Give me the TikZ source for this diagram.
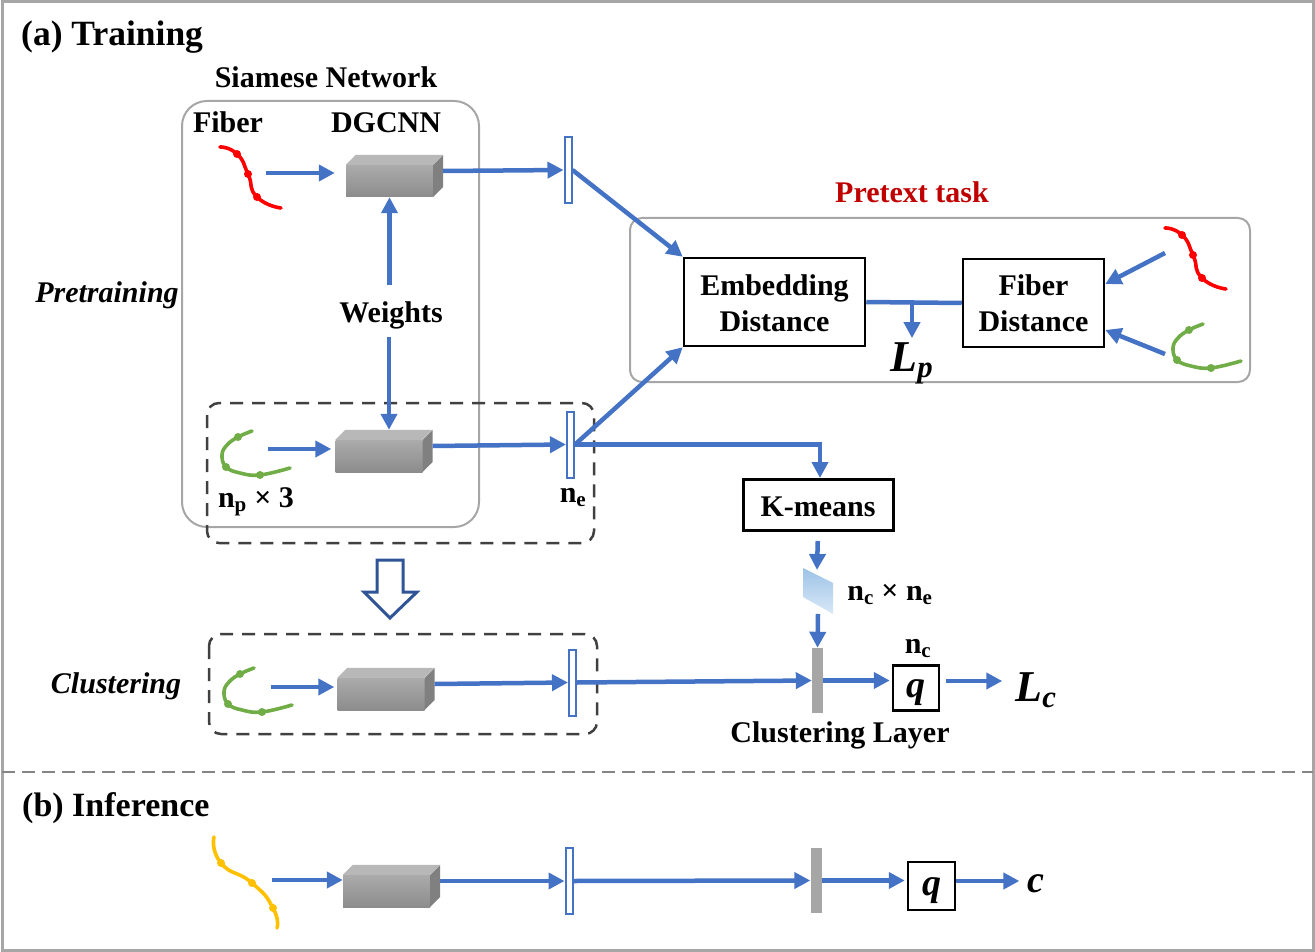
\documentclass[tikz,border=0pt]{standalone}
\usepackage{fontspec}
\setmainfont{Liberation Serif}
\usepackage{tikz}
\usetikzlibrary{arrows.meta}

\definecolor{flowblue}{HTML}{4472C4}
\definecolor{navyblue}{HTML}{2F5597}
\definecolor{framegray}{HTML}{A6A6A6}
\definecolor{dashgray}{HTML}{404040}
\definecolor{darkred}{HTML}{C00000}
\definecolor{fibgreen}{HTML}{70AD47}
\definecolor{fibyellow}{HTML}{FFC000}
\definecolor{paratop}{HTML}{9DC3E6}
\definecolor{parabot}{HTML}{D9E8F8}

\tikzset{
  lab/.style={font=\fontsize{30}{36}\selectfont\bfseries,inner sep=0pt,align=center,yshift=-2.5pt},
  ilab/.style={font=\fontsize{30}{36}\selectfont\bfseries\itshape,inner sep=0pt,yshift=-2.5pt},
  title/.style={font=\fontsize{35.5}{40}\selectfont\bfseries,inner sep=0pt,anchor=west,yshift=-3pt},
  flow/.style={draw=flowblue,line width=4.5pt,-{Triangle[length=16pt,width=16pt]}},
  plainflow/.style={draw=flowblue,line width=4.5pt},
  layerbox/.style={draw=flowblue,fill=white,line width=2pt,minimum width=7pt,minimum height=66pt,inner sep=0pt},
  clusterbar/.style={fill=framegray,minimum width=11pt,minimum height=65pt,inner sep=0pt},
  blockbox/.style={draw=black,line width=2.5pt,fill=white,inner sep=0pt,font=\fontsize{30}{36}\selectfont\bfseries,align=center},
  qbox/.style={draw=black,line width=2.5pt,minimum width=46pt,minimum height=45pt,inner sep=0pt,text height=26pt,text depth=8pt,font=\fontsize{38}{40}\selectfont\bfseries\itshape},
  greybox/.style={draw=framegray,line width=2pt,rounded corners=25pt},
  dashbox/.style={draw=dashgray,line width=2.5pt,dash pattern=on 13pt off 9pt,rounded corners=12pt},
  fibline/.style={line width=3.6pt,line cap=round},
}

% one grey block, front face is the node
\newcommand{\graycube}[3]{
  \node[minimum width=87pt,minimum height=32pt,inner sep=0pt,top color=black!33,bottom color=black!45] (#1) at (#2,#3) {};
  \fill[black!28] (#1.north west) -- ++(10,-10) -- ++(87,0) -- ++(-10,10) -- cycle;
  \fill[black!50] (#1.north east) -- ++(10,-10) -- ++(0,32) -- ++(-10,10) -- cycle;
  \coordinate (#1-out) at ([xshift=10pt,yshift=10pt]#1.east);
  \coordinate (#1-top) at ([xshift=10pt,yshift=10pt]#1.north);
}
% fibers, given by their shift
\newcommand{\redfiber}[2]{
  \begin{scope}[shift={(#1,#2)}]
    \draw[fibline,red] plot[smooth,tension=1] coordinates {(220,147) (237,154) (248,174) (257,197) (281,208)};
    \foreach \p in {(237,154),(248,174),(257,197)} \fill[red] \p circle (4pt);
  \end{scope}
}
\newcommand{\greenfiber}[2]{
  \begin{scope}[shift={(#1,#2)}]
    \draw[fibline,fibgreen] plot[smooth,tension=0.7] coordinates {(252,431) (238,437) (227,445) (222,455) (226,467) (240,473) (260,475) (290,468)};
    \foreach \p in {(238,437),(226,467),(260,475)} \fill[fibgreen] \p circle (4pt);
  \end{scope}
}
\newcommand{\firstline}[1]{\rule{0pt}{#1pt}}

\begin{document}
\begin{tikzpicture}[x=1pt,y=-1pt]
\useasboundingbox (0,0) rectangle (1315,952);
\draw[framegray,line width=3pt] (2,2) rectangle (1313,950);
\draw[draw=framegray!80!black,line width=2pt,dash pattern=on 13pt off 7pt] (2,772) -- (1313,772);

\node[title] (training) at (21,34) {(a) Training};
\node[title,font=\fontsize{34}{40}\selectfont\bfseries] (inference) at (22,805) {(b) Inference};
\node[ilab] (pretraining) at (107,293) {Pretraining};
\node[ilab] (clustering) at (116,684) {Clustering};

%frames
\draw[greybox] (182,101) rectangle (479,527);
\draw[dashbox] (207,403) rectangle (594,543);
\draw[dashbox] (209,634) rectangle (597,734);
\draw[greybox,rounded corners=12pt] (630,218) rectangle (1250,382);

\node[lab] (siamese) at (326,75) {Siamese Network};
\node[lab] (fiber) at (228,120) {Fiber};
\node[lab] (dgcnn) at (386,120) {DGCNN};
\node[lab,text=darkred] (pretext) at (912,190) {Pretext task};
\node[font=\fontsize{30}{36}\selectfont\bfseries,inner sep=0pt,text height=37pt,text depth=15pt] (weights) at (391,311) {Weights};
\node[lab] (npthree) at (256,499) {n\textsubscript{p} × 3};
\node[lab] (nea) at (573,495) {n\textsubscript{e}};
\node[lab] (ncne) at (890,592) {n\textsubscript{c} × n\textsubscript{e}};
\node[lab] (nc) at (918,646) {n\textsubscript{c}};
\node[lab] (clusterlayer) at (840,733) {Clustering Layer};

%fibers
\redfiber{0}{0}
\redfiber{945}{81}
\greenfiber{0}{0}
\greenfiber{951}{-107}
\greenfiber{2}{237}
\draw[fibline,fibyellow] plot[smooth,tension=1] coordinates {(214,837) (221,863) (252,883) (273,908) (277,928)};
\foreach \p in {(221,863),(252,883),(273,908)} \fill[fibyellow] \p circle (4pt);

%blocks
\graycube{cubeA}{389.5}{181}
\graycube{cubeB}{379}{456}
\graycube{cubeC}{381}{694}
\graycube{cubeD}{386.5}{891}

\node[layerbox] (layerA) at (568,170) {};
\node[layerbox] (layerB) at (570.5,444.5) {};
\node[layerbox] (layerC) at (572.5,682.5) {};
\node[layerbox] (layerD) at (569,881) {};

\node[blockbox,minimum width=181pt,minimum height=88pt] (embed) at (774.5,302) {\firstline{24}Embedding\\Distance};
\node[blockbox,minimum width=141pt,minimum height=88pt] (fibdist) at (1033.5,303) {\firstline{22}Fiber\\Distance};
\node[blockbox,line width=3pt,minimum width=150pt,minimum height=51pt] (kmeans) at (818,505) {\firstline{24}K-means};

\shade[top color=paratop,bottom color=parabot] (803,568) -- (833,583) -- (833,614) -- (803,597) -- cycle;
\coordinate (parain) at (817,570);
\coordinate (paraout) at (818,614);

\node[clusterbar] (barA) at (817.5,680.5) {};
\node[clusterbar] (barB) at (816,880.5) {};
\node[qbox] (qA) at (916,688) {q};
\node[qbox,minimum width=47pt,minimum height=48pt] (qB) at (931.5,886) {q};

\node[inner sep=0pt,font=\fontsize{44}{48}\selectfont\bfseries\itshape] (lp) at (912,363) {L\textsubscript{p}};
\node[inner sep=0pt,font=\fontsize{44}{48}\selectfont\bfseries\itshape] (lc) at (1036,690) {L\textsubscript{c}};
\node[inner sep=0pt,font=\fontsize{38}{40}\selectfont\bfseries\itshape] (cout) at (1036,884) {c};

%free ends
\coordinate (fibA) at (266,173);
\coordinate (fibB) at (268,449);
\coordinate (fibC) at (271,687);
\coordinate (fibD) at (272,880);
\coordinate (fibE) at (1165,253);
\coordinate (fibF) at (1165,354);
\coordinate (join) at (912,302);

%arrows
\draw[flow,shorten >=11pt] (fibA) -- (fibA -| cubeA.west);
\draw[flow,shorten >=4pt] (fibB) -- (fibB -| cubeB.west);
\draw[flow,shorten >=3pt] (fibC) -- (fibC -| cubeC.west);
\draw[flow] (fibD) -- (fibD -| cubeD.west);
\draw[flow] (cubeA-out) -- (layerA.west);
\draw[flow] (cubeB-out) -- (layerB.west);
\draw[flow] (cubeC-out) -- (layerC.west);
\draw[flow] (cubeD-out) -- (layerD.west);
\draw[flow] (weights.north -| cubeA.south) -- (cubeA.south);
\draw[flow] (weights.south -| cubeB-top) -- (cubeB-top);
\draw[flow] (layerA.east) -- (embed.north west);
\draw[flow] (layerB.east) -- (embed.south west);
\draw[flow] (layerB.east) -| ([xshift=2pt]kmeans.north);
\draw[plainflow] (embed.east) -- (fibdist.west);
\draw[flow,shorten >=4pt] (join) -- (join |- lp.north);
\draw[flow] (fibE) -- ([yshift=19pt]fibdist.east);
\draw[flow] (fibF) -- ([yshift=-27pt]fibdist.east);
\draw[flow,shorten <=9pt] (kmeans.south) -- (parain);
\draw[flow] (paraout) -- (barA.north);
\draw[flow] (layerC.east) -- (barA.west);
\draw[flow,shorten >=2pt] (barA.east) -- (barA.east -| qA.west);
\draw[flow,shorten <=6pt,shorten >=13pt] ([yshift=7pt]qA.east) -- ([yshift=7pt]qA.east -| lc.west);
\draw[flow] (layerD.east) -- (barB.west);
\draw[flow,shorten >=2pt] (barB.east) -- (barB.east -| qB.west);
\draw[flow,shorten >=8pt] ([yshift=5pt]qB.east) -- ([yshift=5pt]qB.east -| cout.west);

\draw[navyblue,line width=3pt,fill=white] (377,560) -- (403,560) -- (403,592) -- (417,592) -- (390,618) -- (364,592) -- (377,592) -- cycle;
\end{tikzpicture}
\end{document}
